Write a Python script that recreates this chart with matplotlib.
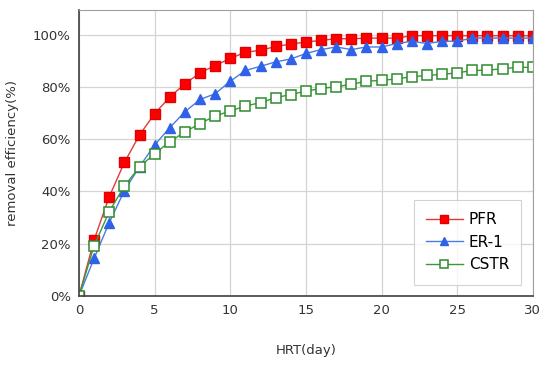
import matplotlib
matplotlib.use('Agg')
import matplotlib.pyplot as plt
from matplotlib.ticker import FuncFormatter

# HRT (day) and removal efficiency (%) for each reactor type
hrt = list(range(0, 31))
pfr = [0, 21.5, 38.0, 51.1, 61.6, 69.8, 76.1, 81.2, 85.4, 88.2, 90.9,
       93.3, 94.0, 95.5, 96.4, 97.2, 97.8, 98.5, 98.4, 98.7, 98.7,
       98.7, 99.6, 99.6, 99.6, 99.6, 99.6, 99.6, 99.6, 99.6, 99.6]
er1 = [0, 14.4, 28.1, 40.3, 49.5, 57.8, 64.4, 70.5, 75.2, 77.4, 82.2,
       86.3, 87.9, 89.6, 90.7, 92.8, 94.3, 95.3, 94.3, 95.3, 95.3,
       96.6, 97.5, 96.6, 97.5, 97.5, 98.7, 98.7, 98.7, 98.7, 98.7]
cstr = [0, 19.3, 32.3, 42.1, 49.4, 54.5, 59.0, 62.8, 66.0, 68.9, 70.8,
        72.7, 74.0, 75.9, 77.1, 78.4, 79.4, 80.1, 81.0, 82.2, 82.5,
        83.1, 83.9, 84.4, 84.8, 85.4, 86.3, 86.4, 87.0, 87.5, 87.5]

fig = plt.figure(figsize=(5.41, 3.65), dpi=100)
ax = fig.add_axes([0.146, 0.189, 0.839, 0.784])

ax.plot(hrt, pfr, color='#e23a3a', lw=1.0, marker='s', ms=6.5,
        mfc='#ff0000', mec='#e00000', label='PFR')
ax.plot(hrt, er1, color='#4a7be0', lw=1.0, marker='^', ms=7,
        mfc='#2f62e8', mec='#2f62e8', label='ER-1')
ax.plot(hrt, cstr, color='#3a9a3a', lw=1.0, marker='s', ms=6.5,
        mfc='white', mec='#2e8b2e', mew=1.1, label='CSTR')

ax.set_xlim(0, 30)
ax.set_ylim(0, 109.5)
ax.set_xticks(range(0, 31, 5))
ax.set_yticks(range(0, 101, 20))
ax.yaxis.set_major_formatter(FuncFormatter(lambda v, p: f'{int(v)}%'))
ax.grid(True, color='#d4d4d4', lw=0.9)
ax.set_axisbelow(True)
ax.tick_params(length=0, labelsize=9.5, colors='#333333', pad=6)

for side in ['top', 'right']:
    ax.spines[side].set_color('#a0a0a0')
for side in ['left', 'bottom']:
    ax.spines[side].set_color('#404040')
    ax.spines[side].set_linewidth(1.2)

ax.set_xlabel('HRT(day)', fontsize=9.5, color='#333333', labelpad=19)
ax.set_ylabel('removal efficiency(%)', fontsize=9.5, color='#333333', labelpad=10)

leg = ax.legend(loc='lower right', fontsize=11, frameon=True, fancybox=False,
                edgecolor='#c8c8c8', handlelength=2.4, handletextpad=0.4,
                borderpad=0.8, labelspacing=0.5, borderaxespad=0.75,
                markerscale=0.8)
leg.get_frame().set_linewidth(0.8)

fig.savefig('out.png', dpi=100)
